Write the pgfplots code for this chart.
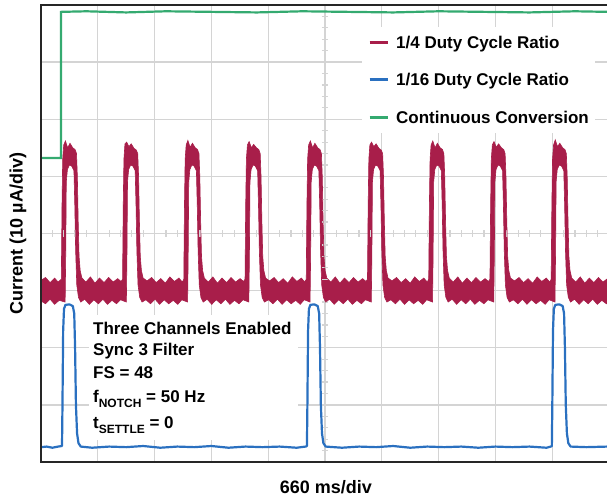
\documentclass[border=0pt]{standalone}
\usepackage{fontspec}
\setmainfont{Liberation Sans}
\usepackage{pgfplots}
\pgfplotsset{compat=1.18}
\usepgfplotslibrary{fillbetween}
\definecolor{cRed}{RGB}{168,30,74}
\definecolor{cBlue}{RGB}{42,112,192}
\definecolor{cGreen}{RGB}{52,170,112}
\definecolor{cGrid}{RGB}{212,212,212}

\begin{document}
\begin{tikzpicture}[font=\fontsize{17}{20}\selectfont\bfseries]
\begin{axis}[
  at={(0,0)}, anchor=south west,
  scale only axis, width=566pt, height=457pt,
  xmin=0, xmax=9.965, ymin=0, ymax=8,
  xtick={1,...,9}, ytick={1,...,7},
  xticklabels={}, yticklabels={},
  major tick length=0pt,
  grid=major, grid style={cGrid, line width=1.3pt},
  axis line style={draw=none},
  xlabel={660 ms/div}, ylabel={Current (10 µA/div)},
  every axis x label/.style={at={(axis description cs:0.5035,-0.0547)}, anchor=center, font=\fontsize{18}{20}\selectfont\bfseries},
  every axis y label/.style={at={(axis description cs:-0.0406,0.5)}, anchor=center, rotate=90, font=\fontsize{18}{20}\selectfont\bfseries},
  legend style={at={(axis cs:5.651,7.618)}, anchor=north west, draw=none, fill=white,
    inner xsep=6pt, inner ysep=7pt, column sep=7pt, row sep=21.8pt,
    nodes={inner sep=0pt, text height=14pt, text depth=2pt}},
  legend cell align=left,
  legend image code/.code={\draw[#1, line width=3pt] (0pt,0pt) -- (18pt,0pt);},
]
% grid crosshair minor ticks
\pgfplotsinvokeforeach{0.2,0.4,0.6,0.8,1.2,1.4,1.6,1.8,2.2,2.4,2.6,2.8,3.2,3.4,3.6,3.8,4.2,4.4,4.6,4.8,5.2,5.4,5.6,5.8,6.2,6.4,6.6,6.8,7.2,7.4,7.6,7.8}{
  \draw[cGrid, line width=1.2pt] (axis cs:4.947,#1) -- (axis cs:5.053,#1);
}
\pgfplotsinvokeforeach{0.2,0.4,0.6,0.8,1.2,1.4,1.6,1.8,2.2,2.4,2.6,2.8,3.2,3.4,3.6,3.8,4.2,4.4,4.6,4.8,5.2,5.4,5.6,5.8,6.2,6.4,6.6,6.8,7.2,7.4,7.6,7.8,8.2,8.4,8.6,8.8,9.2,9.4,9.6,9.8}{
  \draw[cGrid, line width=1.2pt] (axis cs:#1,3.947) -- (axis cs:#1,4.053);
}
% annotation background
\fill[white] (axis cs:0.845,0.385) rectangle (axis cs:4.52,2.574);

% Continuous conversion
\addplot[cGreen, line width=2.2pt, forget plot] coordinates {
(0,5.32)(0.352,5.32)(0.352,7.88)(0.8,7.89)(1.5,7.87)(2.2,7.89)(3.0,7.88)(3.8,7.87)(4.6,7.89)(5.4,7.88)(6.2,7.87)(7.0,7.89)(7.8,7.88)(8.6,7.87)(9.4,7.89)(9.97,7.88)};

% 1/4 duty cycle: upper and lower envelope of the noisy trace
\addplot[cRed, line width=0.6pt, name path=redU, forget plot] coordinates {
(0,3.18)(0.08,3.23)(0.16,3.14)(0.24,3.22)(0.30,3.15)
(0.358,3.20)(0.370,4.50)(0.382,5.30)(0.400,5.55)(0.430,5.62)(0.470,5.50)(0.510,5.58)(0.560,5.50)(0.600,5.47)(0.625,5.40)(0.640,5.00)(0.655,4.20)(0.670,3.60)(0.690,3.35)(0.720,3.22)(0.790,3.15)(0.870,3.24)(0.950,3.13)(1.030,3.22)(1.110,3.14)(1.190,3.23)(1.270,3.15)(1.350,3.21)(1.410,3.16)
(1.436,3.20)(1.448,4.50)(1.460,5.30)(1.478,5.57)(1.508,5.60)(1.548,5.52)(1.588,5.57)(1.638,5.49)(1.678,5.46)(1.703,5.40)(1.718,5.00)(1.733,4.20)(1.748,3.60)(1.768,3.35)(1.798,3.22)(1.868,3.17)(1.948,3.23)(2.028,3.14)(2.108,3.21)(2.188,3.13)(2.268,3.24)(2.348,3.16)(2.428,3.22)(2.488,3.15)
(2.514,3.20)(2.526,4.50)(2.538,5.30)(2.556,5.55)(2.586,5.63)(2.626,5.51)(2.666,5.58)(2.716,5.50)(2.756,5.47)(2.781,5.40)(2.796,5.00)(2.811,4.20)(2.826,3.60)(2.846,3.35)(2.876,3.22)(2.946,3.15)(3.026,3.24)(3.106,3.13)(3.186,3.22)(3.266,3.14)(3.346,3.23)(3.426,3.15)(3.506,3.21)(3.566,3.16)
(3.592,3.20)(3.604,4.50)(3.616,5.30)(3.634,5.55)(3.664,5.61)(3.704,5.50)(3.744,5.56)(3.794,5.50)(3.834,5.47)(3.859,5.40)(3.874,5.00)(3.889,4.20)(3.904,3.60)(3.924,3.35)(3.954,3.22)(4.024,3.17)(4.104,3.23)(4.184,3.14)(4.264,3.21)(4.344,3.13)(4.424,3.24)(4.504,3.16)(4.584,3.22)(4.644,3.15)
(4.670,3.20)(4.682,4.50)(4.694,5.30)(4.712,5.55)(4.742,5.62)(4.782,5.50)(4.822,5.58)(4.872,5.50)(4.912,5.47)(4.937,5.40)(4.952,5.00)(4.967,4.20)(4.982,3.60)(5.002,3.35)(5.032,3.22)(5.102,3.15)(5.182,3.24)(5.262,3.13)(5.342,3.22)(5.422,3.14)(5.502,3.23)(5.582,3.15)(5.662,3.21)(5.722,3.16)
(5.748,3.20)(5.760,4.50)(5.772,5.30)(5.790,5.55)(5.820,5.60)(5.860,5.52)(5.900,5.57)(5.950,5.49)(5.990,5.46)(6.015,5.40)(6.030,5.00)(6.045,4.20)(6.060,3.60)(6.080,3.35)(6.110,3.22)(6.180,3.17)(6.260,3.23)(6.340,3.14)(6.420,3.21)(6.500,3.13)(6.580,3.24)(6.660,3.16)(6.740,3.22)(6.800,3.15)
(6.826,3.20)(6.838,4.50)(6.850,5.30)(6.868,5.55)(6.898,5.62)(6.938,5.50)(6.978,5.58)(7.028,5.50)(7.068,5.47)(7.093,5.40)(7.108,5.00)(7.123,4.20)(7.138,3.60)(7.158,3.35)(7.188,3.22)(7.258,3.15)(7.338,3.24)(7.418,3.13)(7.498,3.22)(7.578,3.14)(7.658,3.23)(7.738,3.15)(7.818,3.21)(7.878,3.16)
(7.904,3.20)(7.916,4.50)(7.928,5.30)(7.946,5.55)(7.976,5.61)(8.016,5.51)(8.056,5.57)(8.106,5.50)(8.146,5.47)(8.171,5.40)(8.186,5.00)(8.201,4.20)(8.216,3.60)(8.236,3.35)(8.266,3.22)(8.336,3.17)(8.416,3.23)(8.496,3.14)(8.576,3.21)(8.656,3.13)(8.736,3.24)(8.816,3.16)(8.896,3.22)(8.956,3.15)
(8.982,3.20)(8.994,4.50)(9.006,5.30)(9.024,5.55)(9.054,5.64)(9.094,5.52)(9.134,5.58)(9.184,5.50)(9.224,5.47)(9.249,5.40)(9.264,5.00)(9.279,4.20)(9.294,3.60)(9.314,3.35)(9.344,3.22)(9.414,3.15)(9.494,3.24)(9.574,3.13)(9.654,3.22)(9.734,3.14)(9.814,3.23)(9.894,3.15)(9.974,3.21)
};
\addplot[cRed, line width=0.6pt, name path=redL, forget plot] coordinates {
(0,2.82)(0.08,2.77)(0.16,2.85)(0.24,2.76)(0.32,2.83)
(0.425,2.80)(0.435,3.60)(0.445,4.90)(0.465,5.12)(0.500,5.20)(0.540,5.18)(0.580,5.10)(0.595,4.50)(0.610,3.70)(0.630,3.10)(0.660,2.88)(0.700,2.80)(0.770,2.85)(0.850,2.76)(0.930,2.84)(1.010,2.77)(1.090,2.85)(1.170,2.76)(1.250,2.83)(1.330,2.77)(1.400,2.84)
(1.503,2.80)(1.513,3.60)(1.523,4.90)(1.543,5.12)(1.578,5.20)(1.618,5.18)(1.658,5.10)(1.673,4.50)(1.688,3.70)(1.708,3.10)(1.738,2.88)(1.778,2.80)(1.848,2.84)(1.928,2.77)(2.008,2.85)(2.088,2.76)(2.168,2.84)(2.248,2.77)(2.328,2.83)(2.408,2.76)(2.478,2.84)
(2.581,2.80)(2.591,3.60)(2.601,4.90)(2.621,5.12)(2.656,5.20)(2.696,5.18)(2.736,5.10)(2.751,4.50)(2.766,3.70)(2.786,3.10)(2.816,2.88)(2.856,2.80)(2.926,2.85)(3.006,2.76)(3.086,2.84)(3.166,2.77)(3.246,2.85)(3.326,2.76)(3.406,2.83)(3.486,2.77)(3.556,2.84)
(3.659,2.80)(3.669,3.60)(3.679,4.90)(3.699,5.12)(3.734,5.20)(3.774,5.18)(3.814,5.10)(3.829,4.50)(3.844,3.70)(3.864,3.10)(3.894,2.88)(3.934,2.80)(4.004,2.84)(4.084,2.77)(4.164,2.85)(4.244,2.76)(4.324,2.84)(4.404,2.77)(4.484,2.83)(4.564,2.76)(4.634,2.84)
(4.737,2.80)(4.747,3.60)(4.757,4.90)(4.777,5.12)(4.812,5.20)(4.852,5.18)(4.892,5.10)(4.907,4.50)(4.922,3.70)(4.942,3.10)(4.972,2.88)(5.012,2.80)(5.082,2.85)(5.162,2.76)(5.242,2.84)(5.322,2.77)(5.402,2.85)(5.482,2.76)(5.562,2.83)(5.642,2.77)(5.712,2.84)
(5.815,2.80)(5.825,3.60)(5.835,4.90)(5.855,5.12)(5.890,5.20)(5.930,5.18)(5.970,5.10)(5.985,4.50)(6.000,3.70)(6.020,3.10)(6.050,2.88)(6.090,2.80)(6.160,2.84)(6.240,2.77)(6.320,2.85)(6.400,2.76)(6.480,2.84)(6.560,2.77)(6.640,2.83)(6.720,2.76)(6.790,2.84)
(6.893,2.80)(6.903,3.60)(6.913,4.90)(6.933,5.12)(6.968,5.20)(7.008,5.18)(7.048,5.10)(7.063,4.50)(7.078,3.70)(7.098,3.10)(7.128,2.88)(7.168,2.80)(7.238,2.85)(7.318,2.76)(7.398,2.84)(7.478,2.77)(7.558,2.85)(7.638,2.76)(7.718,2.83)(7.798,2.77)(7.868,2.84)
(7.971,2.80)(7.981,3.60)(7.991,4.90)(8.011,5.12)(8.046,5.20)(8.086,5.18)(8.126,5.10)(8.141,4.50)(8.156,3.70)(8.176,3.10)(8.206,2.88)(8.246,2.80)(8.316,2.84)(8.396,2.77)(8.476,2.85)(8.556,2.76)(8.636,2.84)(8.716,2.77)(8.796,2.83)(8.876,2.76)(8.946,2.84)
(9.049,2.80)(9.059,3.60)(9.069,4.90)(9.089,5.12)(9.124,5.20)(9.164,5.18)(9.204,5.10)(9.219,4.50)(9.234,3.70)(9.254,3.10)(9.284,2.88)(9.324,2.80)(9.394,2.85)(9.474,2.76)(9.554,2.84)(9.634,2.77)(9.714,2.85)(9.794,2.76)(9.874,2.83)(9.954,2.77)(9.974,2.80)
};
\addplot[cRed, draw=none, forget plot] fill between[of=redU and redL];

% 1/16 duty cycle
\addplot[cBlue, line width=2.2pt, forget plot, line join=round] coordinates {
(0,0.26)(0.10,0.27)(0.20,0.25)(0.30,0.27)(0.370,0.28)(0.378,1.0)(0.390,2.3)(0.405,2.68)(0.430,2.75)(0.500,2.76)(0.560,2.73)(0.585,2.6)(0.600,2.0)(0.615,1.0)(0.635,0.5)(0.660,0.33)(0.700,0.27)
(0.9,0.25)(1.2,0.27)(1.5,0.26)(1.8,0.28)(2.1,0.25)(2.4,0.27)(2.7,0.26)(3.0,0.28)(3.3,0.25)(3.6,0.27)(3.9,0.26)(4.2,0.27)(4.5,0.25)(4.66,0.27)
(4.682,0.28)(4.690,1.0)(4.702,2.3)(4.717,2.68)(4.742,2.75)(4.812,2.76)(4.872,2.73)(4.897,2.6)(4.912,2.0)(4.927,1.0)(4.947,0.5)(4.972,0.33)(5.012,0.27)
(5.3,0.25)(5.6,0.27)(5.9,0.26)(6.2,0.28)(6.5,0.25)(6.8,0.27)(7.1,0.26)(7.4,0.27)(7.7,0.25)(8.0,0.27)(8.3,0.26)(8.6,0.27)(8.9,0.25)(8.975,0.27)
(8.994,0.28)(9.002,1.0)(9.014,2.3)(9.029,2.68)(9.054,2.75)(9.124,2.76)(9.184,2.73)(9.209,2.6)(9.224,2.0)(9.239,1.0)(9.259,0.5)(9.284,0.33)(9.324,0.27)(9.6,0.26)(9.97,0.27)
};

\addlegendimage{cRed}\addlegendentry{1/4 Duty Cycle Ratio}
\addlegendimage{cBlue}\addlegendentry{1/16 Duty Cycle Ratio}
\addlegendimage{cGreen}\addlegendentry{Continuous Conversion}

% annotation
\node[anchor=base west, inner sep=0pt] at (axis cs:0.915,2.224) {Three Channels Enabled};
\node[anchor=base west, inner sep=0pt] at (axis cs:0.915,1.856) {Sync 3 Filter};
\node[anchor=base west, inner sep=0pt] at (axis cs:0.915,1.454) {FS = 48};
\node[anchor=base west, inner sep=0pt] at (axis cs:0.915,1.033) {f\raisebox{-5pt}{\fontsize{12}{12}\selectfont NOTCH} = 50 Hz};
\node[anchor=base west, inner sep=0pt] at (axis cs:0.915,0.595) {t\raisebox{-5pt}{\fontsize{12}{12}\selectfont SETTLE} = 0};
\end{axis}
\draw[line width=2.8pt, black!85, line cap=rect] (566pt,457pt) -- (0pt,457pt) -- (0pt,0pt) -- (566pt,0pt);
\pgfresetboundingbox
\useasboundingbox (-41pt,-34pt) rectangle (566pt,462pt);
\end{tikzpicture}
\end{document}
